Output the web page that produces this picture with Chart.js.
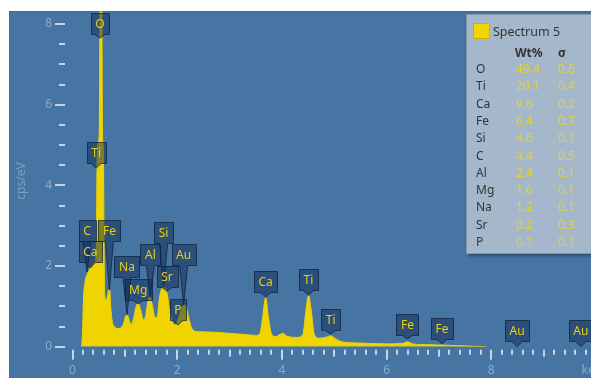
<!DOCTYPE html>
<html>
<head>
<meta charset="utf-8">
<script src="https://cdn.jsdelivr.net/npm/chart.js@4"></script>
<style>
  body { margin: 0; font-family: "Noto Sans", "Open Sans", sans-serif; }
  #wrap { position: relative; width: 591px; height: 378px; background: #fff; overflow: hidden; }
  #panel { position: absolute; left: 9px; top: 11px; right: 0; bottom: 0; background: #4674a3;
           border-top: 1px solid #5d636b; border-left: 1px solid #5d636b; }
  #c { position: absolute; left: 0; top: 0; }
  #legend { position: absolute; left: 466px; top: 14px; width: 140px; height: 238px; background: #a5b7ca;
            border: 1px solid #8596aa; box-shadow: 2px 2px 3px rgba(0,0,0,0.35); font-size: 12px; color: #333; }
  #legend div { position: absolute; white-space: nowrap; line-height: 14px; }
  .swatch { left: 6px; top: 8px; width: 15px; height: 14px; background: #f0d500; border: 1px solid #c9b300; }
  .val { color: #e4d42e; }
</style>
</head>
<body>
<div id="wrap">
  <div id="panel"></div>
  <canvas id="c" width="591" height="378"></canvas>
  <div id="legend"></div>
</div>
<script>
// spectrum (keV, cps/eV)
var energy = [0.17,0.19,0.21,0.24,0.28,0.33,0.38,0.43,0.455,0.47,0.49,0.51,0.527,0.545,0.56,0.575,0.59,0.603,0.615,0.64,
  0.67,0.69,0.71,0.73,0.76,0.80,0.86,0.92,0.97,1.01,1.04,1.07,1.12,1.17,1.22,1.26,1.30,1.36,1.40,1.44,
  1.48,1.52,1.58,1.62,1.66,1.71,1.76,1.81,1.86,1.92,1.97,2.02,2.08,2.13,2.17,2.22,2.27,2.33,2.45,2.7,
  3.0,3.3,3.5,3.58,3.63,3.69,3.74,3.80,3.88,3.97,4.02,4.1,4.3,4.40,4.46,4.51,4.56,4.62,4.72,4.86,
  4.93,5.02,5.15,5.5,6.0,6.3,6.40,6.5,6.8,7.06,7.5,7.9];
var counts = [0,0.3,1.2,1.6,1.8,1.92,2.02,2.1,2.4,4.6,5.05,5.25,9,14,9,5.2,4.9,2.5,1.3,1.15,
  1.25,1.4,1.42,1.0,0.62,0.5,0.45,0.47,0.55,0.74,0.8,0.72,0.55,0.72,1.02,1.08,0.92,0.66,0.78,1.12,
  1.23,1.05,0.72,0.75,1.2,1.45,1.46,1.3,0.85,0.58,0.54,0.68,0.92,1.03,1.0,0.72,0.48,0.39,0.37,0.36,
  0.33,0.3,0.28,0.33,0.7,1.22,0.75,0.32,0.25,0.31,0.33,0.26,0.23,0.3,0.9,1.27,0.9,0.3,0.21,0.24,
  0.27,0.2,0.12,0.09,0.07,0.08,0.12,0.07,0.05,0.04,0.02,0];

// element markers on the spectrum
var markerNames  = ['O','Ti','C','Ca','Fe','Na','Mg','Al','Si','Sr','Au','P','Ca','Ti','Ti','Fe','Fe','Au','Au'];
var markerEnergy = [0.525,0.452,0.277,0.341,0.705,1.041,1.254,1.487,1.740,1.806,2.123,2.013,3.690,4.508,4.931,6.398,7.057,8.493,9.712];
var markerBox    = [7.75,4.55,2.63,2.10,2.63,1.73,1.16,2.02,2.57,1.48,2.02,0.66,1.36,1.41,0.41,0.29,0.19,0.14,0.14];
var markerTip    = [7.65,4.43,1.85,1.95,1.41,0.79,1.06,1.23,1.48,1.38,1.03,0.54,1.23,1.28,0.31,0.19,0.07,0,0];

// quantification table
var tableElements = ['O','Ti','Ca','Fe','Si','C','Al','Mg','Na','Sr','P'];
var tableWt       = ['49.4','20.1','9.6','6.4','4.6','4.4','2.4','1.6','1.2','0.2','0.1'];
var tableSigma    = ['0.6','0.4','0.2','0.7','0.1','0.5','0.1','0.1','0.1','0.3','0.1'];

var yTicks = [0,2,4,6,8];
var xTicks = [0,2,4,6,8];

var points = energy.map(function(e, i){ return {x: e, y: counts[i]} });

var font = '"Noto Sans", "Open Sans", sans-serif';

// assen, ticks en markers zelf tekenen
var spectrumPlugin = {
  id: 'spectrum',
  afterDatasetsDraw: function(chart){
    var ctx = chart.ctx;
    var xs = chart.scales.x, ys = chart.scales.y;
    var bottom = ys.getPixelForValue(0);
    ctx.save();

    // y ticks
    ctx.fillStyle = '#c4d4e6';
    for (var v = 0; v <= 8.01; v += 0.5){
      var py = Math.round(ys.getPixelForValue(v));
      var major = Math.abs(v % 2) < 0.01;
      if (major) ctx.fillRect(55, py - 1, 10, 2);
      else ctx.fillRect(59, py - 1, 6, 2);
    }
    ctx.fillStyle = '#90abcb';
    ctx.font = '12px ' + font;
    ctx.textAlign = 'right';
    ctx.textBaseline = 'middle';
    yTicks.forEach(function(t){ ctx.fillText(String(t), 52, ys.getPixelForValue(t)); });

    // x ticks
    ctx.fillStyle = '#c4d4e6';
    for (var k = 0; k <= 50; k++){
      var e = k * 0.2;
      var px = Math.round(xs.getPixelForValue(e));
      if (px > 592) break;
      var len = (k % 10 === 0) ? 10 : (k % 5 === 0 ? 7 : 5);
      ctx.fillRect(px - 1, bottom + 3, 2, len);
    }
    ctx.fillStyle = '#90abcb';
    ctx.textAlign = 'center';
    ctx.textBaseline = 'middle';
    xTicks.forEach(function(t){ ctx.fillText(String(t), xs.getPixelForValue(t), bottom + 24); });
    ctx.fillText('keV', xs.getPixelForValue(9.92), bottom + 24);

    // y as titel
    ctx.save();
    ctx.translate(22, 181);
    ctx.rotate(-Math.PI / 2);
    ctx.fillStyle = '#809fc4';
    ctx.fillText('cps/eV', 0, 0);
    ctx.restore();

    // element markers
    ctx.font = '12px ' + font;
    markerNames.forEach(function(name, i){
      var cx = xs.getPixelForValue(markerEnergy[i]);
      var by = ys.getPixelForValue(markerBox[i]);
      var ty = ys.getPixelForValue(markerTip[i]);
      var w = Math.max(16, Math.round(ctx.measureText(name).width) + 9);
      var h = 21;
      var left = Math.round(cx - w / 2) + 0.5;
      var top = Math.round(by - h) + 0.5;
      var base = (ty - by) > 8 ? 4 : 5;
      ctx.beginPath();
      ctx.moveTo(left, top);
      ctx.lineTo(left + w, top);
      ctx.lineTo(left + w, top + h);
      ctx.lineTo(cx + base, top + h);
      ctx.lineTo(cx, ty);
      ctx.lineTo(cx - base, top + h);
      ctx.lineTo(left, top + h);
      ctx.closePath();
      ctx.fillStyle = 'rgba(18,42,80,0.5)';
      ctx.fill();
      ctx.strokeStyle = 'rgba(14,32,62,0.75)';
      ctx.lineWidth = 1;
      ctx.stroke();
      ctx.fillStyle = '#e4d11c';
      ctx.textAlign = 'center';
      ctx.textBaseline = 'middle';
      ctx.fillText(name, cx, top + h / 2 + 1);
    });
    ctx.restore();
  }
};

var chart = new Chart(document.getElementById('c'), {
  type: 'line',
  data: {
    datasets: [{
      data: points,
      fill: 'origin',
      backgroundColor: '#efd400',
      borderColor: '#efd400',
      borderWidth: 1,
      pointRadius: 0,
      cubicInterpolationMode: 'monotone'
    }]
  },
  options: {
    responsive: false,
    animation: false,
    devicePixelRatio: 1,
    layout: { padding: { left: 72.5, right: 0, top: 11.5, bottom: 31.3 } },
    plugins: { legend: { display: false }, tooltip: { enabled: false } },
    scales: {
      x: { type: 'linear', min: 0, max: 9.905, display: false },
      y: { min: 0, max: 8.31, display: false }
    }
  },
  plugins: [spectrumPlugin]
});

// tabel rechtsboven opbouwen
var legend = document.getElementById('legend');
function addText(text, x, y, cls, style){
  var d = document.createElement('div');
  d.textContent = text;
  d.style.left = x + 'px';
  d.style.top = (y - 7) + 'px';
  if (cls) d.className = cls;
  if (style) d.style.cssText += style;
  legend.appendChild(d);
}
var sw = document.createElement('div');
sw.className = 'swatch';
legend.appendChild(sw);
addText('Spectrum 5', 26, 17, null, 'font-size:12.5px');
addText('Wt%', 48, 38, null, 'font-weight:bold');
addText('σ', 91, 38, null, 'font-weight:bold');
tableElements.forEach(function(el, i){
  var y = 54 + i * 17.3;
  addText(el, 9, y);
  addText(tableWt[i], 49, y, 'val');
  addText(tableSigma[i], 91, y, 'val');
});
</script>
</body>
</html>
